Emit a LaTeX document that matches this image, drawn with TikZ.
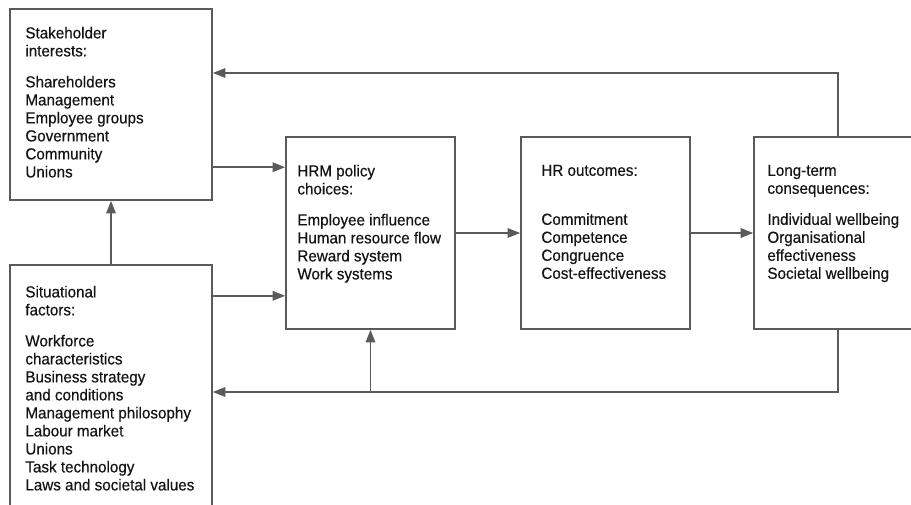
\documentclass[tikz,border=0pt]{standalone}
\usepackage{fontspec}
\usepackage{tikz}
\usetikzlibrary{arrows.meta,positioning,calc}
\newfontfamily\boxfont[FakeStretch=0.95,FakeBold=0.4]{Liberation Sans}
\definecolor{lineGray}{HTML}{5A5A5A}
\definecolor{inkGray}{HTML}{141414}

\begin{document}
\begin{tikzpicture}[x=1pt, y=1pt,
  box/.style={rectangle,draw=lineGray,line width=1.6pt,fill=white,inner sep=0pt},
  txt/.style={anchor=north west,align=left,inner sep=0pt,text=inkGray,font=\boxfont\fontsize{16}{18}\selectfont},
  link/.style={draw=lineGray,line width=1.5pt},
  arr/.style={link,-{Triangle[length=12.5pt,width=9.5pt]}}
]
\useasboundingbox[fill=white] (0,0) rectangle (911,-504);

% boxes
\node[box,minimum width=202,minimum height=191] (sh)  at (111,-104.5) {};
\node[box,minimum width=202,minimum height=255] (sit) at (111,-392.5) {};
\node[box,minimum width=169,minimum height=192] (hrm) at (370.5,-233) {};
\node[box,minimum width=169,minimum height=192] (hr)  at (605.5,-233) {};
\node[box,minimum width=176,minimum height=192] (lt)  at (842,-233) {};

% box texts
\node[txt] (shT) at ([shift={(16,-18.4)}]sh.north west)
  {Stakeholder\\interests:\\[13pt]Shareholders\\Management\\Employee groups\\Government\\Community\\Unions};
\node[txt] (sitT) at ([shift={(16,-21.4)}]sit.north west)
  {Situational\\factors:\\[13pt]Workforce\\characteristics\\Business strategy\\and conditions\\Management philosophy\\Labour market\\Unions\\Task technology\\Laws and societal values};
\node[txt] (hrmT) at ([shift={(12,-28.4)}]hrm.north west)
  {HRM policy\\choices:\\[13pt]Employee influence\\Human resource flow\\Reward system\\Work systems};
\node[txt] (hrT) at ([shift={(21,-28.4)}]hr.north west)
  {HR outcomes:\\[31pt]Commitment\\Competence\\Congruence\\Cost-effectiveness};
\node[txt] (ltT) at ([shift={(14,-28.4)}]lt.north west)
  {Long-term\\consequences:\\[13pt]Individual wellbeing\\Organisational\\effectiveness\\Societal wellbeing};

% connectors
\coordinate (hrmA) at ([yshift=-31]hrm.north west);
\coordinate (hrmB) at ([yshift=34]hrm.south west);
\coordinate (topFb) at (838,-73);
\coordinate (botFb) at (838,-392);
\draw[arr] (sh.east |- hrmA) -- (hrmA);
\draw[arr] (sit.east |- hrmB) -- (hrmB);
\draw[arr] (sit.north) -- (sh.south);
\draw[arr] (hrm.east) -- (hr.west);
\draw[arr] (hr.east) -- (lt.west);
\draw[arr] (lt.north -| topFb) -- (topFb) -- (sh.east |- topFb);
\draw[arr] (lt.south -| botFb) -- (botFb) -- (sit.east |- botFb);
\draw[arr] (hrm.south |- botFb) -- (hrm.south);
\end{tikzpicture}
\end{document}
